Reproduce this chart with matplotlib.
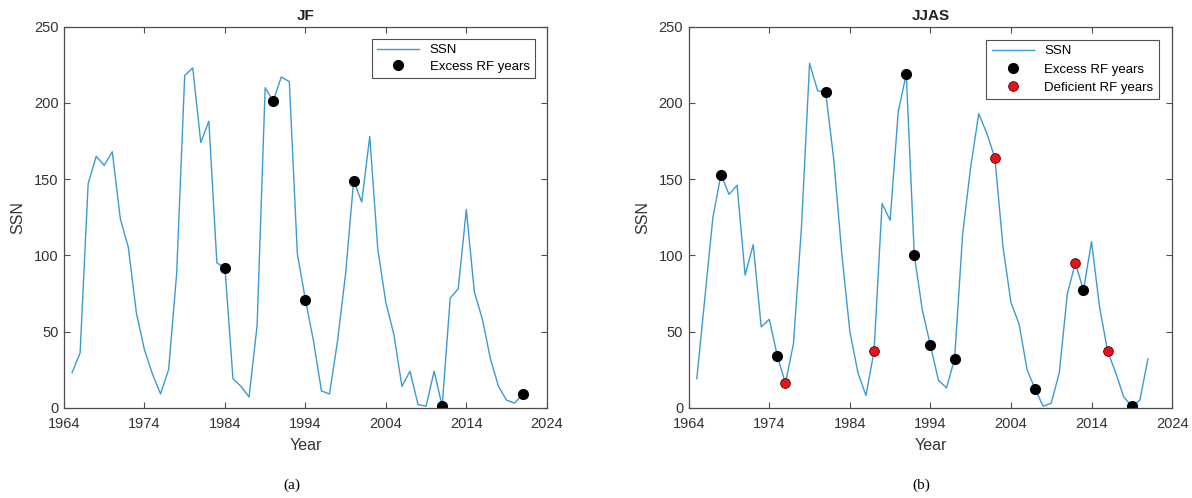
import matplotlib
matplotlib.use('Agg')
import matplotlib.pyplot as plt

plt.rcParams['font.family'] = ['Liberation Sans', 'DejaVu Sans']

years = list(range(1965, 2022))

# JF season sunspot number
ssn_jf = [23, 36, 147, 165, 159, 168, 124, 105, 62, 38,
          22, 9, 25, 88, 218, 223, 174, 188, 95, 92,
          19, 14, 7, 54, 210, 201, 217, 214, 101, 71,
          44, 11, 9, 44, 88, 149, 135, 178, 104, 69,
          48, 14, 24, 2, 1, 24, 1, 72, 78, 130,
          76, 58, 32, 14, 5, 3, 9]
excess_jf_years = [1984, 1990, 1994, 2000, 2011, 2021]

# JJAS season sunspot number
ssn_jjas = [19, 72, 125, 153, 140, 146, 87, 107, 53, 58,
            34, 16, 42, 119, 226, 208, 207, 163, 101, 50,
            23, 8, 37, 134, 123, 194, 219, 100, 64, 41,
            18, 13, 32, 114, 158, 193, 180, 164, 106, 69,
            55, 25, 12, 1, 3, 23, 75, 95, 77, 109,
            66, 37, 23, 7, 1, 5, 32]
excess_jjas_years = [1968, 1975, 1981, 1991, 1992, 1994, 1997, 2007, 2013, 2019]
deficient_jjas_years = [1976, 1987, 2002, 2012, 2016]

line_color = '#3b9bd0'
axis_color = '#4d4d4d'


def pick(series, sel):
    return [series[years.index(y)] for y in sel]


def style_axes(ax, title):
    ax.set_xlim(1964, 2024)
    ax.set_ylim(0, 250)
    ax.set_xticks(range(1964, 2025, 10))
    ax.set_yticks(range(0, 251, 50))
    ax.tick_params(direction='in', top=True, right=True, length=4,
                   width=0.8, colors=axis_color, labelsize=10.5,
                   labelcolor='#333333')
    ax.tick_params(axis='x', pad=7)
    ax.tick_params(axis='y', pad=4)
    for s in ax.spines.values():
        s.set_color(axis_color)
        s.set_linewidth(0.9)
    ax.set_title(title, fontsize=11, fontweight='bold', color='#222222', pad=5)
    ax.set_xlabel('Year', fontsize=11.5, color='#333333', labelpad=5)
    ax.set_ylabel('SSN', fontsize=11.5, color='#333333', labelpad=6)


fig = plt.figure(figsize=(11.92, 4.98), dpi=100)
ax1 = fig.add_axes([0.0537, 0.1813, 0.405, 0.765])
ax2 = fig.add_axes([0.5778, 0.1813, 0.4055, 0.765])

# (a) JF
ax1.plot(years, ssn_jf, color=line_color, lw=1.0, label='SSN')
ax1.plot(excess_jf_years, pick(ssn_jf, excess_jf_years), 'o', color='black',
         ms=7, label='Excess RF years')
style_axes(ax1, 'JF')
leg = ax1.legend(loc='upper right', fontsize=9.5, frameon=True, fancybox=False,
                 edgecolor='#222222', handlelength=3.2, borderpad=0.4,
                 labelspacing=0.35, borderaxespad=0.9)
leg.get_frame().set_linewidth(0.8)

# (b) JJAS
ax2.plot(years, ssn_jjas, color=line_color, lw=1.0, label='SSN')
ax2.plot(excess_jjas_years, pick(ssn_jjas, excess_jjas_years), 'o', color='black',
         ms=7, label='Excess RF years')
ax2.plot(deficient_jjas_years, pick(ssn_jjas, deficient_jjas_years), 'o',
         color='#e3141b', mec='#5a0000', mew=0.6, ms=7, label='Deficient RF years')
style_axes(ax2, 'JJAS')
leg = ax2.legend(loc='upper right', fontsize=9.5, frameon=True, fancybox=False,
                 edgecolor='#222222', handlelength=3.2, borderpad=0.4,
                 labelspacing=0.45, borderaxespad=1.0)
leg.get_frame().set_linewidth(0.8)

fig.text(292 / 1192, 1 - 485 / 498, '(a)', family='Liberation Serif',
         fontsize=11, ha='center', va='center')
fig.text(921 / 1192, 1 - 485 / 498, '(b)', family='Liberation Serif',
         fontsize=11, ha='center', va='center')

fig.savefig('out.png', dpi=100)
